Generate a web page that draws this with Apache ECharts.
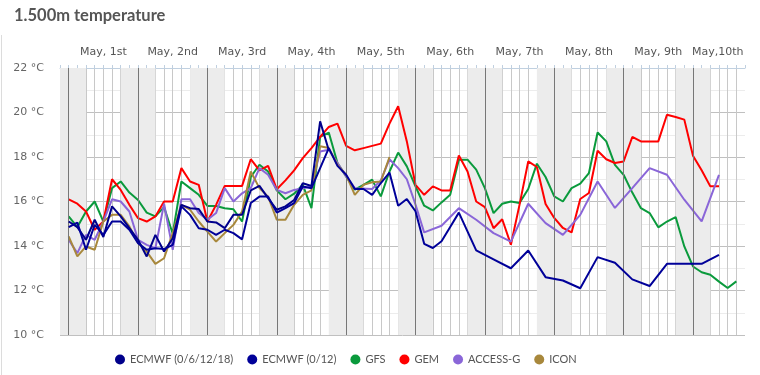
<!DOCTYPE html>
<html>
<head>
<meta charset="utf-8">
<script src="https://cdn.jsdelivr.net/npm/echarts@6/dist/echarts.min.js"></script>
<style>
  html, body { margin: 0; padding: 0; background: #fff; }
  #chart { width: 760px; height: 375px; }
</style>
</head>
<body>
<div id="chart"></div>
<script>
// hours counted from May 1st 00:00
const dayLabels = ['May, 1st', 'May, 2nd', 'May, 3rd', 'May, 4th', 'May, 5th',
  'May, 6th', 'May, 7th', 'May, 8th', 'May, 9th', 'May,10th'];
const dayStarts = [0, 24, 48, 72, 96, 120, 144, 168, 192, 216];
const nightBands = [[-3, 6], [18, 30], [42, 54], [66, 78], [90, 102], [114, 126],
  [138, 150], [162, 174], [186, 198], [210, 222]];

const ecmwf6h = [[0,15.1],[3,14.85],[6,14.28],[9,15.18],[12,14.4],[15,15.78],[18,15.33],[21,14.8],
  [24,14.28],[27,13.53],[30,14.5],[33,13.75],[36,14.35],[39,15.85],[42,15.7],[45,15.66],[48,15.1],
  [51,15.06],[54,14.8],[57,15.4],[60,15.4],[63,16.5],[66,16.7],[69,16.15],[72,15.63],[75,15.78],
  [78,16.07],[81,16.82],[84,16.7],[87,19.6],[90,18.3]];

const ecmwf12h = [[0,14.85],[3,15.05],[6,13.83],[9,14.95],[12,14.5],[15,15.1],[18,15.1],[21,14.73],
  [24,14.13],[27,13.83],[30,13.9],[33,13.86],[36,14.05],[39,15.78],[42,15.4],[45,14.8],[48,14.73],
  [51,14.5],[54,14.73],[57,14.58],[60,14.3],[63,15.93],[66,16.22],[69,16.22],[72,15.5],[75,15.7],
  [78,15.93],[81,16.67],[84,16.6],[90,18.4],[93,17.6],[96,17.2],[99,16.56],[102,16.56],[105,16.3],
  [108,16.83],[111,17.3],[114,15.81],[117,16.11],[120,15.56],[123,14.1],[126,13.91],[129,14.21],
  [132,14.85],[135,15.5],[141,13.8],[147,13.4],[153,13.0],[159,13.8],[165,12.6],[171,12.45],
  [177,12.1],[183,13.5],[189,13.25],[195,12.5],[201,12.2],[207,13.2],[213,13.2],[219,13.2],[225,13.6]];

const gfs = [[0,15.33],[3,14.85],[6,15.55],[9,16.0],[12,15.1],[15,16.6],[18,16.9],[21,16.4],
  [24,16.07],[27,15.5],[30,15.33],[33,15.75],[36,14.55],[39,16.9],[42,16.6],[45,16.3],[48,15.8],
  [51,15.8],[54,15.7],[57,15.65],[60,15.1],[63,17.1],[66,17.65],[69,17.35],[72,16.5],[75,16.1],
  [78,16.35],[81,16.75],[84,15.7],[87,18.9],[90,19.1],[93,17.73],[96,17.13],[99,16.53],[102,16.75],
  [105,16.98],[108,16.23],[111,17.35],[114,18.2],[117,17.58],[120,16.68],[123,15.81],[126,15.6],
  [129,15.96],[132,16.3],[135,17.88],[138,17.88],[141,17.43],[144,16.6],[147,15.48],[150,15.9],
  [153,16.0],[156,15.93],[159,16.56],[162,17.7],[165,17.1],[168,16.23],[171,16.0],[174,16.6],
  [177,16.8],[180,17.28],[183,19.1],[186,18.7],[189,17.65],[192,17.2],[195,16.4],[198,15.7],
  [201,15.48],[204,14.84],[207,15.1],[210,15.3],[213,13.98],[216,13.08],[219,12.82],[222,12.71],
  [225,12.4],[228,12.11],[231,12.41]];

const gem = [[0,16.1],[3,15.9],[6,15.55],[9,14.73],[12,15.1],[15,17.0],[18,16.52],[21,15.85],
  [24,15.25],[27,15.1],[30,15.33],[33,16.0],[36,16.0],[39,17.5],[42,16.9],[45,16.75],[48,15.1],
  [51,15.85],[54,16.7],[57,16.7],[60,16.7],[63,17.9],[66,17.4],[69,17.6],[72,16.55],[75,16.95],
  [78,17.4],[81,17.95],[84,18.4],[87,18.9],[90,19.35],[93,19.5],[96,18.5],[99,18.3],[102,18.4],
  [105,18.5],[108,18.6],[111,19.5],[114,20.28],[117,18.7],[120,16.75],[123,16.3],[126,16.68],
  [129,16.5],[132,16.5],[135,18.07],[138,17.35],[141,16.0],[144,15.75],[147,14.8],[150,15.2],
  [153,14.06],[156,15.86],[159,17.8],[162,17.55],[165,15.89],[168,15.26],[171,14.81],[174,14.61],
  [177,16.11],[180,16.38],[183,18.28],[186,17.9],[189,17.73],[192,17.8],[195,18.9],[198,18.7],
  [201,18.7],[204,18.7],[207,19.9],[210,19.8],[213,19.68],[216,18.06],[219,17.4],[222,16.68],[225,16.68]];

const accessG = [[0,14.28],[3,13.68],[6,14.5],[9,14.28],[12,15.1],[15,16.1],[18,16.0],[21,15.55],
  [24,14.28],[27,14.05],[30,13.9],[33,15.9],[36,13.83],[39,16.1],[42,16.1],[45,15.48],[48,15.18],
  [51,15.48],[54,16.6],[57,16.0],[60,16.37],[63,16.6],[66,17.5],[69,17.2],[72,16.52],[75,16.37],
  [78,16.52],[81,16.6],[84,16.68],[87,18.25],[90,18.33],[96,17.13],[99,16.6],[105,16.56],[108,16.95],
  [111,17.9],[114,17.5],[117,17.0],[120,15.86],[123,14.61],[129,14.91],[135,15.7],[141,15.18],
  [147,14.58],[153,14.2],[159,15.9],[165,15.03],[171,14.5],[177,15.4],[183,16.9],[189,15.71],
  [195,16.6],[201,17.5],[207,17.2],[213,16.08],[219,15.11],[225,17.2]];

const icon = [[0,14.43],[3,13.53],[6,13.98],[9,13.83],[12,15.1],[15,15.4],[18,15.4],[21,14.88],
  [24,14.13],[27,13.75],[30,13.2],[33,13.45],[36,14.58],[39,15.85],[42,15.63],[45,15.1],[48,14.65],
  [51,14.2],[54,14.58],[57,14.95],[60,15.55],[63,17.35],[66,16.6],[69,16.22],[72,15.18],[75,15.18],
  [78,15.85],[81,16.3],[84,16.5],[87,18.48],[90,18.4],[93,17.65],[96,17.2],[99,16.3],[102,16.75],
  [105,16.86],[108,16.9],[111,18.0]];

const seriesNames = ['ECMWF (0/6/12/18)', 'ECMWF (0/12)', 'GFS', 'GEM', 'ACCESS-G', 'ICON'];
const seriesColors = ['#00008b', '#000099', '#0a9a3c', '#ff0000', '#8a66d8', '#a8883c'];
const seriesData = [ecmwf6h, ecmwf12h, gfs, gem, accessG, icon];

var chartDom = document.getElementById('chart');
var myChart = echarts.init(chartDom);
var option;

const lineSeries = seriesData.map((d, i) => ({
  name: seriesNames[i],
  type: 'line',
  data: d,
  showSymbol: false,
  symbol: 'circle',
  color: seriesColors[i],
  lineStyle: { width: 2, color: seriesColors[i] },
  z: i < 2 ? 5 : 3,
  animation: false
}));

option = {
  animation: false,
  title: {
    text: '1.500m temperature',
    left: 9,
    top: 2,
    textStyle: { fontFamily: 'Lato', fontSize: 16.5, fontWeight: 'bold', color: '#555' }
  },
  legend: {
    data: seriesNames,
    left: 110,
    top: 349,
    icon: 'circle',
    itemWidth: 10,
    itemHeight: 10,
    itemGap: 14,
    textStyle: { fontFamily: 'Lato', fontSize: 11, color: '#555' }
  },
  grid: { left: 60, right: 15, top: 68, bottom: 40 },
  xAxis: {
    type: 'value',
    position: 'top',
    min: -3,
    max: 234,
    interval: 3,
    axisLine: { show: true, lineStyle: { color: '#c0d0e0' } },
    axisTick: { show: true, length: 3, lineStyle: { color: '#c0d0e0' } },
    axisLabel: {
      margin: 10,
      color: '#555',
      fontFamily: 'DejaVu Sans',
      fontSize: 11,
      formatter: (v) => {
        const k = (v - 12) / 24;
        if (!Number.isInteger(k) || k < 0 || k >= dayLabels.length) return '';
        return k === dayLabels.length - 1 ? '{last|' + dayLabels[k] + '}' : dayLabels[k];
      },
      rich: { last: { fontFamily: 'DejaVu Sans', fontSize: 11, color: '#555', padding: [0, 20, 0, 0] } }
    },
    splitLine: { show: true, showMaxLine: false, lineStyle: { color: '#c8c8c8' } }
  },
  yAxis: {
    type: 'value',
    min: 10,
    max: 22,
    interval: 2,
    axisLine: { show: false },
    axisTick: { show: false },
    axisLabel: { formatter: '{value} °C', color: '#666', fontFamily: 'DejaVu Sans', fontSize: 11, margin: 16 },
    splitLine: { lineStyle: { color: '#c0c0c0' } },
    minorTick: { show: false, splitNumber: 2 },
    minorSplitLine: { show: true, lineStyle: { color: '#ececec' } }
  },
  series: [
    {
      name: 'nights',
      type: 'line',
      data: [],
      z: -1,
      silent: true,
      markArea: {
        silent: true,
        itemStyle: { color: '#ececec' },
        data: nightBands.map(b => [{ xAxis: b[0] }, { xAxis: b[1] }])
      }
    },
    {
      name: 'days',
      type: 'line',
      data: [],
      z: 1,
      silent: true,
      markLine: {
        silent: true,
        symbol: 'none',
        label: { show: false },
        lineStyle: { color: '#777', type: 'solid', width: 1 },
        data: dayStarts.map(h => ({ xAxis: h }))
      }
    }
  ].concat(lineSeries.slice(2)).concat(lineSeries.slice(0, 2)),
  graphic: [{
    type: 'line',
    shape: { x1: 1.5, y1: 35, x2: 1.5, y2: 375 },
    style: { stroke: '#dcdcdc', lineWidth: 1 }
  }]
};

option && myChart.setOption(option);
</script>
</body>
</html>
